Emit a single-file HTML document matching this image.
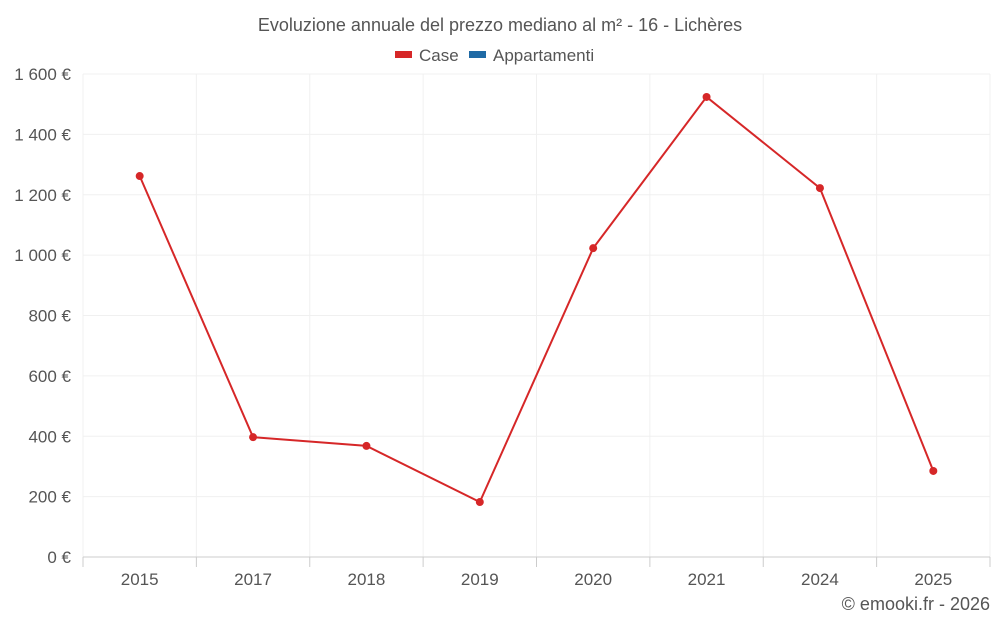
<!DOCTYPE html>
<html><head><meta charset="utf-8">
<style>
html,body{margin:0;padding:0;background:#fff;}
svg{display:block;font-family:"Liberation Sans",sans-serif;}
</style></head>
<body>
<svg id="chart" width="1000" height="625" viewBox="0 0 1000 625">
  <text x="500" y="31" text-anchor="middle" font-size="18" fill="#555">Evoluzione annuale del prezzo mediano al m² - 16 - Lichères</text>
  <g>
    <g>
      <rect x="395" y="51" width="17" height="7" fill="#d62728"/>
      <text x="419" y="61" font-size="17" fill="#555">Case</text>
    </g>
    <g>
      <rect x="469" y="51" width="17" height="7" fill="#1f6aa5"/>
      <text x="493" y="61" font-size="17" fill="#555">Appartamenti</text>
    </g>
  </g>
  <g id="grid"></g>
  <g id="axes"></g>
  <g id="series"></g>
  <text x="990" y="610" text-anchor="end" font-size="18" fill="#555">© emooki.fr - 2026</text>
</svg>
<script>
const categories = ["2015","2017","2018","2019","2020","2021","2024","2025"];
const caseValues = [1262, 397, 368, 182, 1023, 1524, 1222, 285];
const yTicks = [0,200,400,600,800,1000,1200,1400,1600];
const yTickLabels = ["0 €","200 €","400 €","600 €","800 €","1 000 €","1 200 €","1 400 €","1 600 €"];

const NS="http://www.w3.org/2000/svg";
const L=83,R=990,T=74,B=557,yMax=1600;
const bw=(R-L)/categories.length;
function xPos(i){return L+bw*(i+0.5);}
function yPos(v){return B-(v/yMax)*(B-T);}
function mk(tag,attrs,parent){const e=document.createElementNS(NS,tag);for(const k in attrs)e.setAttribute(k,attrs[k]);parent.appendChild(e);return e;}
const grid=document.getElementById('grid'),axes=document.getElementById('axes'),series=document.getElementById('series');

yTicks.forEach((v,i)=>{
  const y=yPos(v);
  if(v>0){const g=mk('line',{x1:L,x2:R,y1:y,y2:y,stroke:'#f0f0f0','stroke-width':1},grid);
  
  }
  const t=mk('text',{x:71,y:y+6,'text-anchor':'end','font-size':17,fill:'#555'},axes);
  t.textContent=yTickLabels[i];
  
  
});
for(let i=0;i<=categories.length;i++){
  const x=L+bw*i;
  const g=mk('line',{x1:x,x2:x,y1:T,y2:B,stroke:'#f0f0f0','stroke-width':1},grid);
  
  
  const tk=mk('line',{x1:x,x2:x,y1:B,y2:B+10,stroke:'#ccc','stroke-width':1},axes);
  
  
}
const ax=mk('line',{x1:L,x2:R,y1:B,y2:B,stroke:'#ccc','stroke-width':1},axes);


categories.forEach((c,i)=>{
  const t=mk('text',{x:xPos(i),y:585,'text-anchor':'middle','font-size':17,fill:'#555'},axes);
  t.textContent=c;
  
  
});
const pts=caseValues.map((v,i)=>xPos(i)+','+yPos(v)).join(' ');
const pl=mk('polyline',{points:pts,fill:'none',stroke:'#d62728','stroke-width':2},series);


caseValues.forEach((v,i)=>{
  const c=mk('circle',{cx:xPos(i),cy:yPos(v),r:4,fill:'#d62728'},series);
  
  
});
</script>
</body></html>
